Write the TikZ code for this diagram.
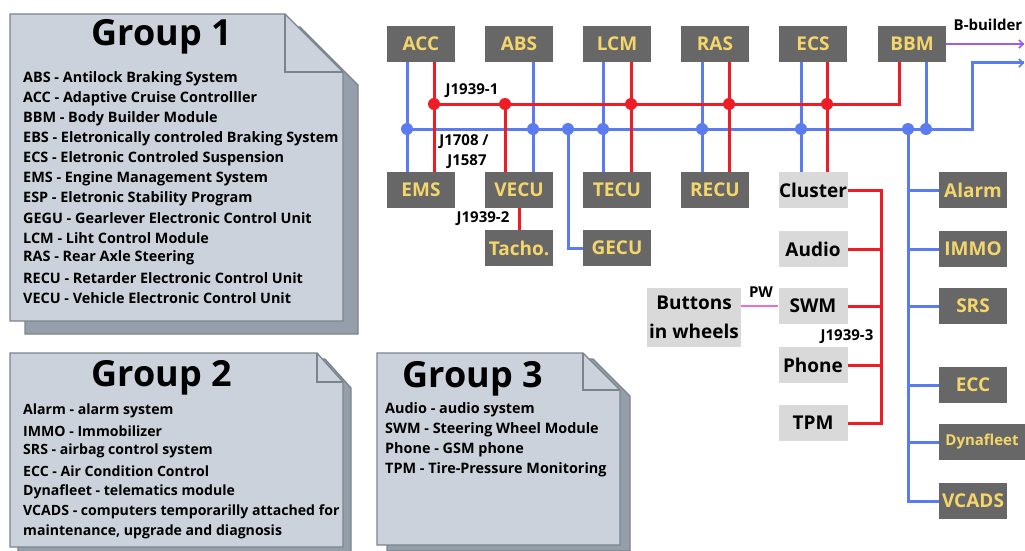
\documentclass[tikz,border=0pt]{standalone}
\usepackage{fontspec}
\setmainfont{Open Sans}
\usetikzlibrary{arrows.meta}

\definecolor{busblue}{HTML}{5B7BF0}
\definecolor{busred}{HTML}{EE1C24}
\definecolor{pwpink}{HTML}{F06EC8}
\definecolor{bbpurple}{HTML}{9A5CF2}
\definecolor{unitfill}{HTML}{676767}
\definecolor{unittext}{HTML}{F4D66A}
\definecolor{lightunit}{HTML}{D9D9D9}
\definecolor{notefill}{HTML}{CBD2DB}
\definecolor{noteedge}{HTML}{7A848F}
\definecolor{noteshadow}{HTML}{949FAA}

\tikzset{
  unit/.style={fill=unitfill, text=unittext, font=\bfseries\fontsize{19}{21}\selectfont,
    minimum width=68, minimum height=36, inner sep=0pt},
  lightbox/.style={fill=lightunit, text=black, font=\bfseries\fontsize{19}{21}\selectfont,
    minimum width=69, minimum height=36, inner sep=0pt},
  bluebus/.style={draw=busblue, line width=3pt},
  redbus/.style={draw=busred, line width=3pt},
  bdot/.style={circle, fill=busblue, minimum size=12, inner sep=0pt},
  rdot/.style={circle, fill=busred, minimum size=12, inner sep=0pt},
  buslabel/.style={font=\bfseries\fontsize{15}{17}\selectfont, inner sep=0pt},
  notetitle/.style={font=\bfseries\fontsize{36}{38}\selectfont, inner sep=0pt},
  notetext/.style={font=\bfseries\fontsize{14.4}{16}\selectfont, anchor=west, inner sep=0pt},
  noteshade/.style={fill=noteshadow, draw=noteedge, line width=1.3pt},
  notebody/.style={fill=notefill, draw=noteedge, line width=1.3pt},
}

\begin{document}
\begin{tikzpicture}[x=1pt, y=-1pt, line join=miter]
\useasboundingbox (0,0) rectangle (1025,551);

% ---------- legend notes ----------
% Group 1
\path[noteshade] (25,27) -- (300,27) -- (358,85) -- (358,334) -- (25,334) -- cycle;
\path[notebody] (10,14) -- (285,14) -- (343,72) -- (343,321) -- (10,321) -- cycle;
\draw[noteedge, line width=1.3pt] (285,14) -- (285,72) -- (343,72);
\node[notetitle] (g1title) at (162,37) {Group 1};
\foreach \t [count=\i from 0] in {
  ABS - Antilock Braking System,
  ACC - Adaptive Cruise Controlller,
  BBM - Body Builder Module,
  EBS - Eletronically controled Braking System,
  ECS - Eletronic Controled Suspension,
  EMS - Engine Management System,
  ESP - Eletronic Stability Program,
  GEGU - Gearlever Electronic Control Unit,
  LCM - Liht Control Module,
  RAS - Rear Axle Steering,
  RECU - Retarder Electronic Control Unit,
  VECU - Vehicle Electronic Control Unit}
  \node[notetext] (g1l\i) at (23, 79+19.9*\i) {\t};

% Group 2
\path[noteshade] (18,359) -- (325,359) -- (351,388) -- (351,553) -- (18,553) -- cycle;
\path[notebody] (10,353) -- (317,353) -- (343,382) -- (343,547) -- (10,547) -- cycle;
\draw[noteedge, line width=1.3pt] (317,353) -- (317,382) -- (343,382);
\node[notetitle] (g2title) at (162,378) {Group 2};
\foreach \t [count=\i from 0] in {
  Alarm - alarm system,
  IMMO - Immobilizer,
  SRS - airbag control system,
  ECC - Air Condition Control,
  Dynafleet - telematics module,
  VCADS - computers temporarilly attached for,
  {maintenance, upgrade and diagnosis}}
  \node[notetext, font=\bfseries\fontsize{14.1}{16}\selectfont] (g2l\i) at (23, 411+20.1*\i) {\t};

% Group 3
\path[noteshade] (387,359) -- (593,359) -- (630,396) -- (630,551) -- (387,551) -- cycle;
\path[notebody] (377,353) -- (583,353) -- (620,390) -- (620,545) -- (377,545) -- cycle;
\draw[noteedge, line width=1.3pt] (583,353) -- (583,390) -- (620,390);
\node[notetitle] (g3title) at (473,379) {Group 3};
\foreach \t [count=\i from 0] in {
  Audio - audio system,
  SWM - Steering Wheel Module,
  Phone - GSM phone,
  TPM - Tire-Pressure Monitoring}
  \node[notetext] (g3l\i) at (385, 410+20*\i) {\t};

% ---------- control units ----------
\node[unit] (acc)  at (421,44) {ACC};
\node[unit] (abs)  at (519,44) {ABS};
\node[unit] (lcm)  at (617,44) {LCM};
\node[unit] (ras)  at (715,44) {RAS};
\node[unit] (ecs)  at (813,44) {ECS};
\node[unit] (bbm)  at (912,44) {BBM};

\node[unit] (ems)  at (421,190) {EMS};
\node[unit] (vecu) at (519,190) {VECU};
\node[unit] (tecu) at (617,190) {TECU};
\node[unit] (recu) at (715,190) {RECU};
\node[lightbox] (cluster) at (813,190) {Cluster};

\node[unit] (tacho) at (519,248) {Tacho.};
\node[unit] (gecu)  at (617,248) {GECU};

\node[lightbox] (audio) at (813,249) {Audio};
\node[lightbox] (swm)   at (813,306) {SWM};
\node[lightbox] (phone) at (813,365) {Phone};
\node[lightbox] (tpm)   at (813,423) {TPM};
\node[lightbox, minimum width=94, minimum height=59, align=center,
      font=\bfseries\fontsize{19}{29}\selectfont] (buttons) at (694,317) {Buttons\\in wheels};

\node[unit] (alarm) at (973,190) {Alarm};
\node[unit] (immo)  at (973,249) {IMMO};
\node[unit] (srs)   at (973,306) {SRS};
\node[unit] (ecc)   at (973,385) {ECC};
\node[unit, minimum width=86, font=\bfseries\fontsize{15}{17}\selectfont] (dyna) at (982,442) {Dynafleet};
\node[unit] (vcads) at (973,501) {VCADS};

% ---------- bus junctions ----------
\coordinate (b1) at (407,129);
\coordinate (b2) at (533,129);
\coordinate (b3) at (568,129);
\coordinate (b4) at (603,129);
\coordinate (b5) at (702,129);
\coordinate (b6) at (801,129);
\coordinate (b7) at (908,129);
\coordinate (b8) at (926,129);
\coordinate (bturn) at (972,129);
\coordinate (bout) at (1024,63);

\coordinate (r1) at (434,104);
\coordinate (r2) at (505,104);
\coordinate (r3) at (631,104);
\coordinate (r4) at (729,104);
\coordinate (r5) at (827,104);
\coordinate (r6) at (899,104);

\coordinate (j3) at (881,190);
\coordinate (bbout) at (1024,44);

% ---------- J1708 / J1587 (blue) ----------
\draw[bluebus] (b1) -- (bturn) -- (bturn |- bout) -- (bout);
\draw[busblue, line width=1.6pt, -{Straight Barb[length=4pt,width=8pt]}] ([xshift=-6pt]bout) -- (bout);
\draw[bluebus] (acc.south -| b1) -- (ems.north -| b1);
\draw[bluebus] (abs.south -| b2) -- (vecu.north -| b2);
\draw[bluebus] (b3) -- (b3 |- gecu.west) -- (gecu.west);
\draw[bluebus] (lcm.south -| b4) -- (tecu.north -| b4);
\draw[bluebus] (ras.south -| b5) -- (recu.north -| b5);
\draw[bluebus] (ecs.south -| b6) -- (cluster.north -| b6);
\draw[bluebus] (bbm.south -| b8) -- (b8);
\draw[bluebus] (b7) -- (b7 |- vcads.west) -- (vcads.west);
\foreach \u in {alarm, immo, srs, ecc, dyna}
  \draw[bluebus] (b7 |- \u.west) -- (\u.west);

% ---------- J1939 (red) ----------
\draw[redbus] (r1) -- (r6) -- (bbm.south -| r6);
\draw[redbus] (acc.south -| r1) -- (ems.north -| r1);
\draw[redbus] (r2) -- (vecu.north -| r2);
\draw[redbus] (lcm.south -| r3) -- (tecu.north -| r3);
\draw[redbus] (ras.south -| r4) -- (recu.north -| r4);
\draw[redbus] (ecs.south -| r5) -- (cluster.north -| r5);
\draw[redbus] (vecu.south) -- (tacho.north);
\draw[redbus] (cluster.east) -- (j3) -- (j3 |- tpm.east) -- (tpm.east);
\foreach \u in {audio, swm, phone}
  \draw[redbus] (\u.east) -- (j3 |- \u.east);

% ---------- other links ----------
\draw[pwpink, line width=2.6pt] (swm.west) -- (swm.west -| buttons.east);
\draw[bbpurple, line width=2.6pt] (bbm.east) -- (bbout);
\draw[bbpurple, line width=1.6pt, -{Straight Barb[length=4pt,width=8pt]}] ([xshift=-6pt]bbout) -- (bbout);

% junction dots
\foreach \p in {b1,b2,b3,b4,b5,b6,b7,b8}
  \node[bdot] (d\p) at (\p) {};
\foreach \p in {r1,r2,r3,r4,r5}
  \node[rdot] (d\p) at (\p) {};

% ---------- bus labels ----------
\node[buslabel] (lj1)  at (472,91)  {J1939-1};
\node[buslabel] (lj17) at (464,142) {J1708 /};
\node[buslabel] (lj15) at (467,162) {J1587};
\node[buslabel] (lj2)  at (483,219) {J1939-2};
\node[buslabel] (lj3)  at (847,337) {J1939-3};
\node[buslabel] (lpw)  at (761,292) {PW};
\node[buslabel] (lbb)  at (988,25)  {B-builder};
\end{tikzpicture}
\end{document}
